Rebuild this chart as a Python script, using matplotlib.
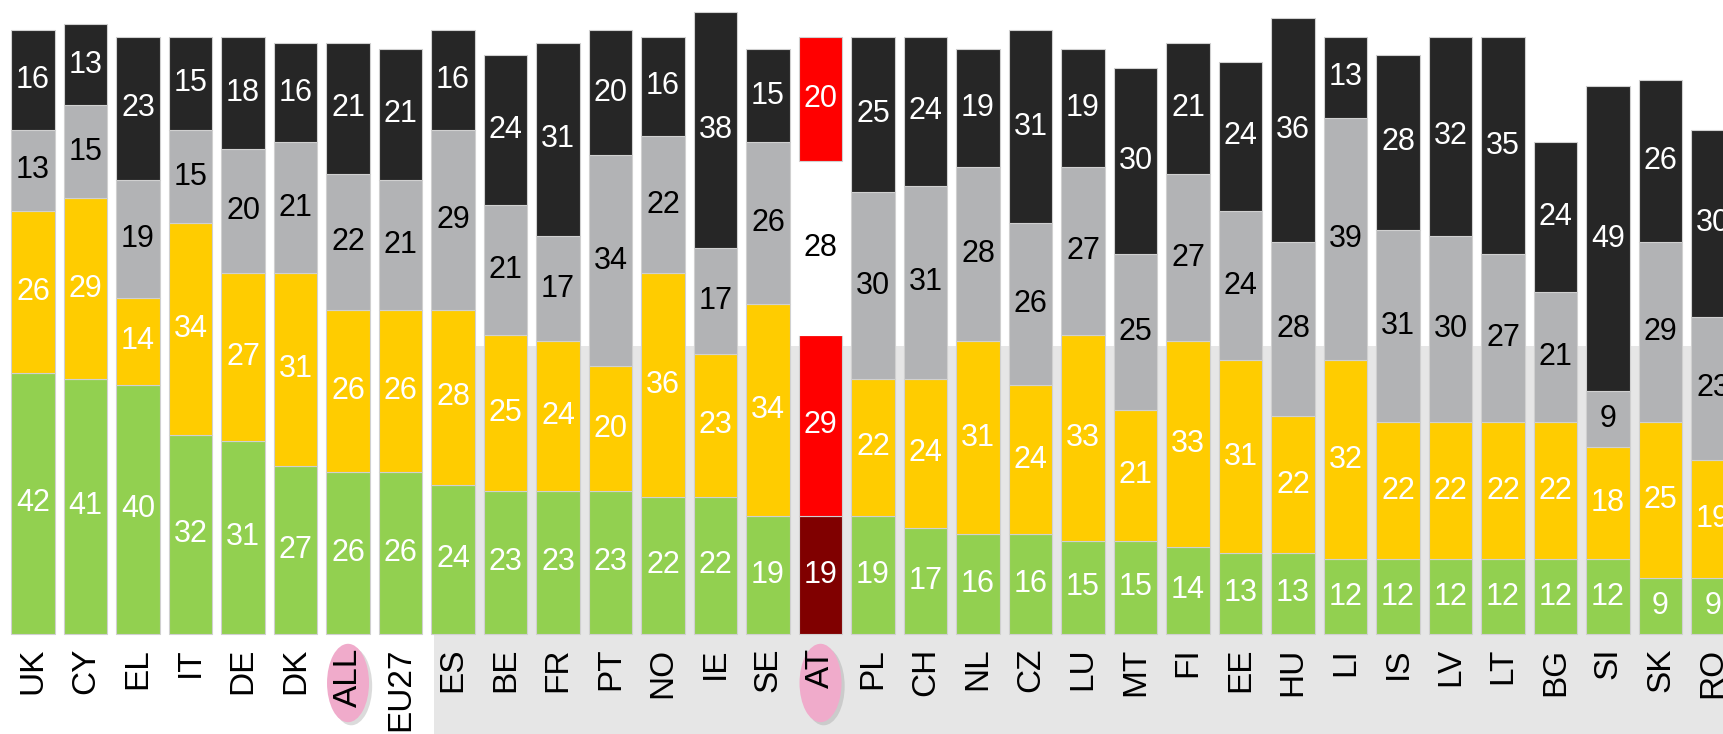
import matplotlib
matplotlib.use("Agg")
import matplotlib.pyplot as plt
from matplotlib.patches import Rectangle, Ellipse

plt.rcParams['font.family'] = ['Liberation Sans', 'DejaVu Sans']

countries = ['UK', 'CY', 'EL', 'IT', 'DE', 'DK', 'ALL', 'EU27', 'ES', 'BE', 'FR',
             'PT', 'NO', 'IE', 'SE', 'AT', 'PL', 'CH', 'NL', 'CZ', 'LU', 'MT',
             'FI', 'EE', 'HU', 'LI', 'IS', 'LV', 'LT', 'BG', 'SI', 'SK', 'RO']
green = [42, 41, 40, 32, 31, 27, 26, 26, 24, 23, 23, 23, 22, 22, 19, 19, 19,
         17, 16, 16, 15, 15, 14, 13, 13, 12, 12, 12, 12, 12, 12, 9, 9]
yellow = [26, 29, 14, 34, 27, 31, 26, 26, 28, 25, 24, 20, 36, 23, 34, 29, 22,
          24, 31, 24, 33, 21, 33, 31, 22, 32, 22, 22, 22, 22, 18, 25, 19]
grey = [13, 15, 19, 15, 20, 21, 22, 21, 29, 21, 17, 34, 22, 17, 26, 28, 30,
        31, 28, 26, 27, 25, 27, 24, 28, 39, 31, 30, 27, 21, 9, 29, 23]
black = [16, 13, 23, 15, 18, 16, 21, 21, 16, 24, 31, 20, 16, 38, 15, 20, 25,
         24, 19, 31, 19, 30, 21, 24, 36, 13, 28, 32, 35, 24, 49, 26, 30]

highlight = ['ALL', 'AT']

series = [green, yellow, grey, black]
colors = ['#92d050', '#ffcc00', '#b2b3b5', '#262626']
txt_colors = ['white', 'white', 'black', 'white']
# AT is drawn in its own palette
at_colors = ['#800000', '#ff0000', 'white', '#ff0000']
at_txt = ['white', 'white', 'black', 'white']

fig = plt.figure(figsize=(17.23, 7.34), dpi=100)
ax = fig.add_axes([0, 0, 1, 1])
ax.set_xlim(-0.629, 32.19)
ax.set_ylim(-16.1, 101.9)
ax.axis('off')

# grey panel behind the countries after EU27
ax.add_patch(Rectangle((7.63, -20), 30, 66.3, color='#e6e6e6', zorder=0, lw=0))

x = list(range(len(countries)))
bottom = [0] * len(countries)
for k, vals in enumerate(series):
    cols = [at_colors[k] if c == 'AT' else colors[k] for c in countries]
    edges = ['white' if (c == 'AT' and k == 2) else '#d0d0d0' for c in countries]
    ax.bar(x, vals, bottom=bottom, width=0.83, color=cols, edgecolor=edges,
           linewidth=0.8, zorder=2)
    for i, v in enumerate(vals):
        tc = at_txt[k] if countries[i] == 'AT' else txt_colors[k]
        ax.text(i, bottom[i] + v / 2, str(v), ha='center', va='center',
                color=tc, fontsize=22, zorder=3)
    bottom = [b + v for b, v in zip(bottom, vals)]

for i, c in enumerate(countries):
    if c in highlight:
        ax.add_patch(Ellipse((i + 0.06, -8.4), 0.8, 12.6, color='#999999',
                             alpha=0.35, zorder=2, lw=0))
        ax.add_patch(Ellipse((i, -7.9), 0.8, 12.6, color='#f0abcb',
                             zorder=3, lw=0))
    ax.text(i, -2.25, c, rotation=90, ha='center', va='top', fontsize=24,
            color='black', zorder=4)

fig.savefig('out.png', dpi=100)
